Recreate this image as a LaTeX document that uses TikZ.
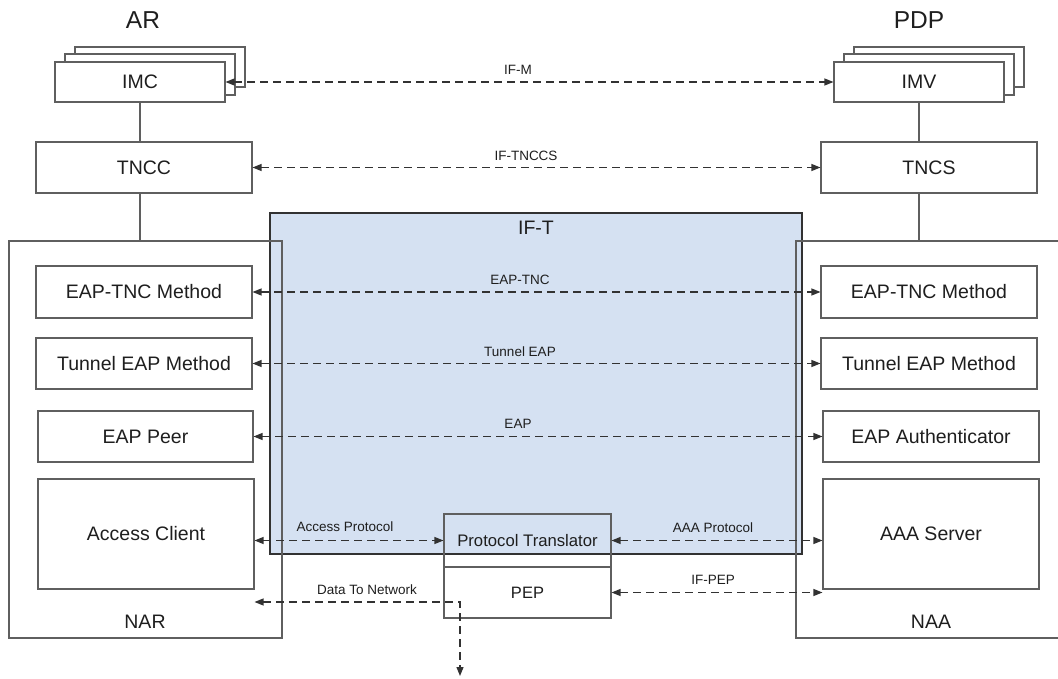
\documentclass[tikz,border=0pt]{standalone}
\usepackage{fontspec}
\setmainfont{Liberation Sans}
\usetikzlibrary{arrows.meta,calc}
\definecolor{boxgray}{RGB}{95,95,95}
\definecolor{linegray}{RGB}{50,50,50}
\definecolor{txt}{RGB}{30,30,30}
\definecolor{iftblue}{RGB}{213,225,242}
\tikzset{
  box/.style={draw=boxgray, line width=1.1pt, fill=white, inner sep=0pt, text=txt,
    font=\fontsize{19.5}{22}\selectfont},
  frame/.style={draw=boxgray, line width=1.1pt, inner sep=0pt},
  conn/.style={draw=boxgray, line width=1.1pt},
  flow/.style={draw=linegray, line width=1.2pt, dash pattern=on 8pt off 5pt,
    {Triangle[length=9pt,width=7pt]}-{Triangle[length=9pt,width=7pt]}},
  lbl/.style={text=txt, inner sep=0pt, font=\fontsize{13.5}{16}\selectfont},
  big/.style={text=txt, inner sep=0pt, font=\fontsize{24.5}{28}\selectfont},
  mid/.style={text=txt, inner sep=0pt, font=\fontsize{19.5}{22}\selectfont}
}
\begin{document}
\begin{tikzpicture}[x=1pt,y=-1pt]
\useasboundingbox (0,0) rectangle (1058,679);
\clip (0,0) rectangle (1058,679);

% IF-T area
\node[frame, fill=iftblue, draw=linegray, minimum width=532pt, minimum height=341pt] (ift) at (536,383.5) {};
\node[mid] (iftlabel) at (536,228) {IF-T};

% headers
\node[big] (ar) at (143,20) {AR};
\node[big] (pdp) at (919,20) {PDP};

% stacked IMC / IMV
\node[box, minimum width=170pt, minimum height=40pt] (imc3) at (160,67) {};
\node[box, minimum width=170pt, minimum height=41pt] (imc2) at (150,74.5) {};
\node[box, minimum width=170pt, minimum height=40pt] (imc) at (140,82) {IMC};
\node[box, minimum width=170pt, minimum height=40pt] (imv3) at (939,67) {};
\node[box, minimum width=170pt, minimum height=41pt] (imv2) at (929,74.5) {};
\node[box, minimum width=170pt, minimum height=40pt] (imv) at (919,82) {IMV};

% TNCC / TNCS
\node[box, minimum width=216pt, minimum height=51pt] (tncc) at (144,167.5) {TNCC};
\node[box, minimum width=216pt, minimum height=51pt] (tncs) at (929,167.5) {TNCS};

% NAR / NAA frames
\node[frame, minimum width=273pt, minimum height=397pt] (nar) at (145.5,439.5) {};
\node[frame, minimum width=273pt, minimum height=397pt] (naa) at (932.5,439.5) {};
\node[mid] (narlabel) at (145,622) {NAR};
\node[mid] (naalabel) at (931,622) {NAA};

% inner boxes
\node[box, minimum width=216pt, minimum height=52pt] (eaptncL) at (144,292) {EAP-TNC Method};
\node[box, minimum width=216pt, minimum height=52pt] (eaptncR) at (929,292) {EAP-TNC Method};
\node[box, minimum width=216pt, minimum height=51pt] (tunL) at (144,363.5) {Tunnel EAP Method};
\node[box, minimum width=216pt, minimum height=51pt] (tunR) at (929,363.5) {Tunnel EAP Method};
\node[box, minimum width=215pt, minimum height=51pt] (peer) at (145.5,436.5) {EAP Peer};
\node[box, minimum width=216pt, minimum height=51pt] (auth) at (931,436.5) {EAP Authenticator};
\node[box, minimum width=216pt, minimum height=110pt] (acc) at (146,534) {Access Client};
\node[box, minimum width=216pt, minimum height=110pt] (aaa) at (931,534) {AAA Server};

% Protocol translator / PEP
\node[box, fill=none, minimum width=167pt, minimum height=53pt, font=\fontsize{16.7}{19}\selectfont] (pt) at (527.5,540.5) {Protocol Translator};
\node[box, minimum width=167pt, minimum height=51pt, font=\fontsize{16.5}{19}\selectfont] (pep) at (527.5,592.5) {PEP};

% solid connectors
\draw[conn] (imc.south) -- (imc.south |- tncc.north);
\draw[conn] (imc.south |- tncc.south) -- (imc.south |- nar.north);
\draw[conn] (imv.south) -- (imv.south |- tncs.north);
\draw[conn] (imv.south |- tncs.south) -- (imv.south |- naa.north);

% dashed flows
\draw[flow] (imc.east) -- (imv.west);
\draw[flow] (tncc.east) -- (tncs.west);
\draw[flow] (eaptncL.east) -- (eaptncR.west);
\draw[flow] (tunL.east) -- (tunR.west);
\draw[flow] (peer.east) -- (auth.west);
\draw[flow] (acc.east |- pt.west) -- (pt.west);
\draw[flow] (pt.east) -- (aaa.west |- pt.east);
\draw[flow] (pep.east) -- (aaa.west |- pep.east);
\coordinate (dtn) at (460,602);
\coordinate (net) at (460,676);
\draw[flow] (acc.east |- dtn) -- (dtn) -- (net);

% flow labels
\node[lbl] (lifm) at (518,70) {IF-M};
\node[lbl] (liftnccs) at (526,156) {IF-TNCCS};
\node[lbl] (leaptnc) at (520,280) {EAP-TNC};
\node[lbl] (ltunnel) at (520,352) {Tunnel EAP};
\node[lbl] (leap) at (518,424) {EAP};
\node[lbl] (laccess) at (345,527) {Access Protocol};
\node[lbl] (laaa) at (713,528) {AAA Protocol};
\node[lbl] (lifpep) at (713,580) {IF-PEP};
\node[lbl] (ldata) at (367,590) {Data To Network};
\end{tikzpicture}
\end{document}
